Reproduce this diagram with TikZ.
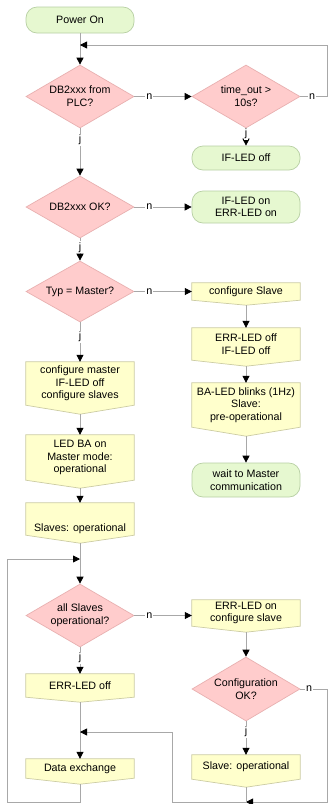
\documentclass[tikz,border=0pt]{standalone}
\usepackage{fontspec}
\setmainfont{Liberation Sans}
\usetikzlibrary{shapes.geometric,arrows.meta,calc}
\pgfdeclarelayer{background}
\pgfsetlayers{background,main}
\definecolor{dfill}{RGB}{255,204,204}
\definecolor{ddraw}{RGB}{232,176,176}
\definecolor{gfill}{RGB}{230,248,208}
\definecolor{gdraw}{RGB}{184,208,164}
\definecolor{yfillc}{RGB}{255,255,204}
\definecolor{ydraw}{RGB}{204,204,164}
\definecolor{lgrey}{RGB}{168,168,168}
\newcommand\yshape[2]{%
  \begin{pgfonlayer}{background}
    \draw[yshp] (#1.north west) -- (#1.north east) -- (#1.south east)
      -- ($(#1.south)+(0,#2)$) coordinate (#1-tip) -- (#1.south west) -- cycle;
  \end{pgfonlayer}}
\tikzset{
  txt/.style={font=\fontsize{10.7}{12.7}\selectfont},
  base/.style={txt, align=center, inner sep=0pt, minimum width=108pt},
  dec/.style={base, shape=diamond, aspect=1.7, fill=dfill, draw=ddraw, line width=0.7pt},
  term/.style={base, rectangle, rounded corners=11pt, fill=gfill, draw=gdraw, line width=0.7pt},
  proc/.style={base, rectangle},
  yshp/.style={fill=yfillc, draw=ydraw, line width=0.7pt},
  conn/.style={draw=lgrey, line width=0.8pt},
  arr/.style={conn, -{Triangle[length=7pt,width=7pt,color=black,fill=black]}},
  lbl/.style={txt, fill=white, inner sep=1pt},
}
\begin{document}
\begin{tikzpicture}[x=1pt,y=-1pt]
\useasboundingbox (0,0) rectangle (328,804);
\begin{pgfonlayer}{background}
\fill[white] (0,0) rectangle (328,804);
\end{pgfonlayer}
% terminals
\node[term, minimum height=26pt] (power) at (80,20) {Power On};
\node[term, minimum height=24pt] (ifoff) at (246,158) {IF-LED off};
\node[term, minimum height=32pt] (ifon) at (246,207) {IF-LED on\\ERR-LED on};
\node[term, minimum height=34pt] (wait) at (246,480) {wait to Master\\communication};
% decisions
\node[dec, minimum height=63pt] (d1) at (80,96.5) {DB2xxx from\\PLC?};
\node[dec, minimum height=63pt] (d2) at (246,96.5) {time\_out >\\10s?};
\node[dec, minimum height=62pt] (d3) at (80,207) {DB2xxx OK?};
\node[dec, minimum height=61pt] (d4) at (80,291.5) {Typ = Master?};
\node[dec, minimum height=63pt] (d5) at (80,615.5) {all Slaves\\operational?};
\node[dec, minimum height=64pt] (d6) at (246,689) {Configuration\\OK?};
% processes
\node[proc, minimum height=17pt] (cslave) at (246,291.5) {configure Slave};
\node[proc, minimum height=32pt] (errifoff) at (246,344) {ERR-LED off\\IF-LED off};
\node[proc, minimum height=44pt] (bablink) at (246,405) {BA-LED blinks (1Hz)\\Slave:\\pre-operational};
\node[proc, minimum height=43pt] (cmaster) at (80,383.5) {configure master\\IF-LED off\\configure slaves};
\node[proc, minimum height=45pt] (ledba) at (80,457.5) {LED BA on\\Master mode:\\operational};
\node[proc, minimum height=32pt, text height=24pt, text depth=0pt] (slavesop) at (80,519) {Slaves: operational};
\node[proc, minimum height=26pt] (errcfg) at (246,613) {ERR-LED on\\configure slave};
\node[proc, minimum height=23pt] (erroff) at (80,685.5) {ERR-LED off};
\node[proc, minimum height=19pt] (dataex) at (80,768.5) {Data exchange};
\node[proc, minimum height=24pt] (slaveop) at (246,767) {Slave: operational};
\yshape{cslave}{5}
\yshape{errifoff}{6}
\yshape{bablink}{9}
\yshape{cmaster}{9}
\yshape{ledba}{8}
\yshape{slavesop}{8}
\yshape{errcfg}{6}
\yshape{erroff}{5}
\yshape{dataex}{6}
\yshape{slaveop}{8}
% helper coordinates
\coordinate (m1) at (80,45);
\coordinate (rt) at (327,45);
\coordinate (m2) at (80,559);
\coordinate (lb) at (7,802);
\coordinate (rb) at (327,802);
\coordinate (m3) at (246,802);
\coordinate (k) at (172,802);
\coordinate (m4) at (80,732);
% connectors
\draw[arr] (power.south) -- (d1.north);
\draw[arr] (d1.east) -- node[lbl,pos=.26]{n} (d2.west);
\draw[arr] (d2.east) -- node[lbl,pos=.44]{n} (d2.east -| rt) -- (rt) -- (m1);
\draw[arr] (d2.south) -- node[lbl,pos=.3]{j} (ifoff.north);
\draw[arr] (d1.south) -- node[lbl,pos=.25]{j} (d3.north);
\draw[arr] (d3.east) -- node[lbl,pos=.26]{n} (ifon.west);
\draw[arr] (d3.south) -- node[lbl,pos=.4]{j} (d4.north);
\draw[arr] (d4.east) -- node[lbl,pos=.26]{n} (cslave.west |- d4.east);
\draw[arr] (d4.south) -- node[lbl,pos=.375]{j} (cmaster.north);
\draw[arr] (cslave-tip) -- (errifoff.north);
\draw[arr] (errifoff-tip) -- (bablink.north);
\draw[arr] (bablink-tip) -- (wait.north);
\draw[arr] (cmaster-tip) -- (ledba.north);
\draw[arr] (ledba-tip) -- (slavesop.north);
\draw[arr] (slavesop-tip) -- (d5.north);
\draw[arr] (d5.east) -- node[lbl,pos=.26]{n} (errcfg.west |- d5.east);
\draw[arr] (errcfg-tip) -- (d6.north);
\draw[arr] (d5.south) -- node[lbl,pos=.4]{j} (erroff.north);
\draw[arr] (erroff-tip) -- (dataex.north);
\draw[arr] (d6.south) -- node[lbl,pos=.32]{j} (slaveop.north);
\draw[arr] (dataex-tip) |- (lb) |- (m2);
\draw[arr] (d6.east) -- node[lbl,pos=.33]{n} (d6.east -| rb) -- (rb) -- (m3);
\draw[arr] (slaveop-tip) -- (m3) -- (k) |- (m4);
\end{tikzpicture}
\end{document}
